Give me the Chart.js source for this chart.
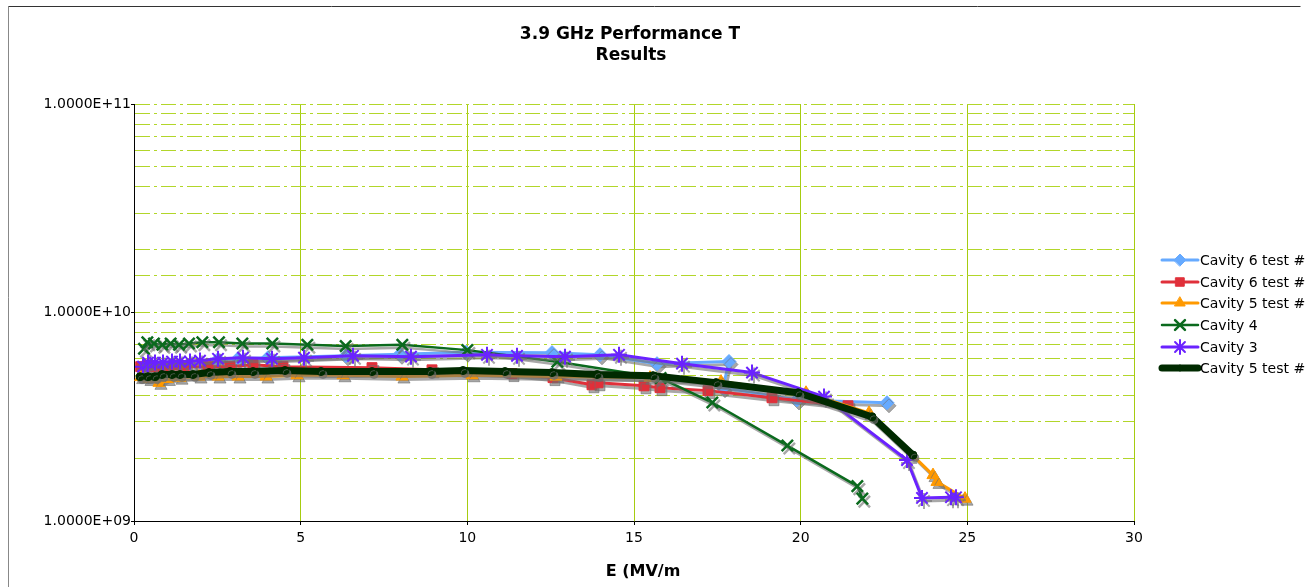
<!DOCTYPE html>
<html>
<head>
<meta charset="utf-8">
<script src="https://cdn.jsdelivr.net/npm/chart.js@4/dist/chart.umd.min.js"></script>
<style>
  html, body { margin: 0; padding: 0; background: #fff; }
  #chart { display: block; }
</style>
</head>
<body>
<canvas id="chart" width="1308" height="587"></canvas>
<script>
// Q0 vs E for each cavity test (y values in units of 1e9)
const seriesNames = ['Cavity 6 test #', 'Cavity 6 test #', 'Cavity 5 test #', 'Cavity 4', 'Cavity 3', 'Cavity 5 test #'];

const cav6aE = [2.52, 3.12, 4.02, 6.36, 7.98, 9.96, 12.54, 13.98, 15.69, 17.85, 17.67, 19.89, 22.59];
const cav6aQ = [5.95, 6.0, 6.07, 6.2, 6.3, 6.45, 6.42, 6.27, 5.68, 5.82, 4.36, 3.81, 3.69];

const cav6bE = [0.2, 0.4, 0.6, 0.9, 1.2, 1.5, 2.22, 2.88, 3.57, 4.47, 7.14, 8.94, 11.34, 12.57, 13.74, 13.92, 15.3, 15.78, 17.22, 19.14, 21.42];
const cav6bQ = [5.5, 5.6, 5.5, 5.5, 5.6, 5.5, 5.5, 5.5, 5.62, 5.5, 5.44, 5.31, 5.09, 4.87, 4.5, 4.6, 4.45, 4.36, 4.22, 3.9, 3.57];

const cav5aE = [0.2, 0.45, 0.75, 1.0, 1.38, 1.95, 2.52, 3.12, 3.96, 4.89, 6.27, 8.04, 10.14, 12.66, 15.48, 17.61, 20.16, 22.05, 23.97, 24.09, 24.93];
const cav5aQ = [4.9, 4.8, 4.6, 4.8, 4.87, 4.93, 4.93, 4.93, 4.93, 5.0, 5.0, 4.93, 5.0, 4.93, 4.87, 4.66, 4.12, 3.3, 1.66, 1.54, 1.28];

const cav4E = [0.3, 0.4, 0.6, 0.85, 1.1, 1.35, 1.65, 2.05, 2.55, 3.25, 4.15, 5.2, 6.35, 8.05, 10.0, 12.7, 15.8, 17.35, 19.6, 21.7, 21.85];
const cav4Q = [6.7, 7.2, 7.1, 7.0, 7.1, 7.0, 7.1, 7.2, 7.2, 7.1, 7.1, 7.0, 6.9, 7.0, 6.6, 5.8, 4.85, 3.7, 2.3, 1.47, 1.28];

const cav3E = [0.27, 0.42, 0.63, 0.87, 1.14, 1.38, 1.68, 1.98, 2.52, 3.27, 4.14, 5.1, 6.57, 8.31, 10.59, 11.49, 12.93, 14.55, 16.44, 18.54, 20.7, 23.19, 23.64, 24.51, 24.66];
const cav3Q = [5.5, 5.75, 5.75, 5.75, 5.82, 5.82, 5.82, 5.88, 6.0, 6.07, 6.0, 6.07, 6.2, 6.14, 6.27, 6.2, 6.14, 6.27, 5.68, 5.15, 3.95, 1.96, 1.29, 1.3, 1.3];

const cav5bE = [0.18, 0.42, 0.63, 0.84, 1.14, 1.38, 1.77, 2.25, 2.88, 3.57, 4.53, 5.61, 7.14, 8.88, 9.87, 11.13, 12.54, 13.89, 15.57, 17.46, 19.92, 22.14, 23.37];
const cav5bQ = [4.92, 4.92, 4.92, 5.04, 5.04, 5.04, 5.04, 5.15, 5.21, 5.21, 5.27, 5.21, 5.21, 5.21, 5.27, 5.21, 5.15, 5.04, 4.98, 4.61, 4.12, 3.16, 2.07];

const xTicksStep = 5;
const yMin = 1e9, yMax = 1e11;

const FONT = 'DejaVu Sans, Verdana, sans-serif';

const pts = (xs, ys) => xs.map((x, i) => ({ x, y: ys[i] * 1e9 }));

const styles = [
  { color: '#66aaff', width: 3,   point: 'rectRot',  r: 7, bw: 1 },
  { color: '#e0303a', width: 3,   point: 'rect',     r: 7, bw: 1 },
  { color: '#ff9900', width: 3,   point: 'triangle', r: 7, bw: 1 },
  { color: '#0b6a1e', width: 2.5, point: 'crossRot', r: 8, bw: 2.5 },
  { color: '#6a22ff', width: 3,   point: 'star',     r: 8, bw: 2 },
  { color: '#002a00', width: 7,   point: 'circle',   r: 4, bw: 1 }
];
const rawData = [
  pts(cav6aE, cav6aQ), pts(cav6bE, cav6bQ), pts(cav5aE, cav5aQ),
  pts(cav4E, cav4Q), pts(cav3E, cav3Q), pts(cav5bE, cav5bQ)
];

const datasets = rawData.map((d, i) => {
  const s = styles[i];
  return {
    label: seriesNames[i],
    data: d,
    borderColor: s.color,
    backgroundColor: s.color,
    borderWidth: s.width,
    borderCapStyle: 'round',
    borderJoinStyle: 'round',
    pointStyle: s.point,
    pointRadius: s.r,
    pointBorderWidth: s.bw,
    pointBackgroundColor: s.color,
    pointBorderColor: s.color,
    tension: 0,
    order: styles.length - i   // later series drawn on top
  };
});

const isDecade = v => Math.abs(Math.log10(v) - Math.round(Math.log10(v))) < 1e-9;
function fmtSci(v){
  const e = Math.round(Math.log10(v));
  return '1.0000E+' + String(e).padStart(2, '0');
}

// drop shadow under lines and markers
const shadow = {
  id: 'shadow',
  beforeDatasetsDraw(chart){
    const c = chart.ctx;
    c.save();
    c.shadowColor = 'rgba(110,110,110,0.6)';
    c.shadowOffsetX = 2;
    c.shadowOffsetY = 3;
    c.shadowBlur = 0;
  },
  afterDatasetsDraw(chart){ chart.ctx.restore(); }
};

// frame, titles and legend
const decor = {
  id: 'decor',
  beforeDraw(chart){
    const c = chart.ctx;
    c.save();
    c.fillStyle = '#fff';
    c.fillRect(0, 0, chart.width, chart.height);
    c.restore();
  },
  afterDraw(chart){
    const c = chart.ctx;
    c.save();
    c.lineWidth = 1;
    c.strokeStyle = '#888';
    c.beginPath(); c.moveTo(8.5, 600); c.lineTo(8.5, 6.5); c.stroke();
    c.strokeStyle = '#333';
    c.beginPath(); c.moveTo(8.5, 6.5); c.lineTo(1300.5, 6.5); c.stroke();

    c.fillStyle = '#000';
    c.textAlign = 'center';
    c.textBaseline = 'middle';
    c.font = 'bold 17px ' + FONT;
    c.fillText('3.9 GHz Performance T', 630, 35);
    c.fillText('Results', 631, 56);
    c.font = 'bold 16px ' + FONT;
    c.fillText('E (MV/m', 643, 572);

    // legend
    const lx0 = 1162, lx1 = 1198, rowY = [260, 282, 303, 325, 347, 368];
    c.textAlign = 'left';
    c.font = '14px ' + FONT;
    styles.forEach((s, i) => {
      const y = rowY[i];
      c.strokeStyle = s.color;
      c.lineWidth = s.width;
      c.lineCap = 'round';
      c.beginPath(); c.moveTo(lx0, y); c.lineTo(lx1, y); c.stroke();
      c.fillStyle = s.color;
      c.lineWidth = s.bw;
      Chart.helpers.drawPoint(c, { pointStyle: s.point, radius: s.r - 1, rotation: 0, borderWidth: s.bw }, (lx0 + lx1) / 2, y);
      c.fillStyle = '#000';
      c.fillText(seriesNames[i], 1200, y + 1);
    });
    c.restore();
  }
};

new Chart(document.getElementById('chart'), {
  type: 'line',
  data: { datasets },
  options: {
    responsive: false,
    animation: false,
    layout: { padding: { top: 104, right: 174, left: 0, bottom: 0 } },
    plugins: { legend: { display: false }, tooltip: { enabled: false } },
    scales: {
      x: {
        type: 'linear',
        min: 0, max: 30,
        ticks: { stepSize: xTicksStep, color: '#000', font: { family: FONT, size: 14 }, padding: 5 },
        grid: {
          color: ctx => ctx.tick && ctx.tick.value === 0 ? 'rgba(0,0,0,0)' : '#a6cc10',
          lineWidth: 1, tickLength: 4, tickColor: '#000'
        },
        border: { color: '#000', width: 1 },
        afterFit: s => { s.height = 66; }
      },
      y: {
        type: 'logarithmic',
        min: yMin, max: yMax,
        ticks: {
          autoSkip: false,
          color: '#000',
          font: { family: FONT, size: 14 },
          padding: 0,
          callback: v => isDecade(v) ? fmtSci(v) : ''
        },
        grid: {
          color: '#b2d62a',
          lineWidth: 1,
          tickLength: 3,
          tickColor: ctx => ctx.tick && isDecade(ctx.tick.value) ? '#000' : 'rgba(0,0,0,0)'
        },
        border: { color: '#000', width: 1, dash: [15, 4, 3, 4] },
        afterFit: s => { s.width = 134; }
      }
    }
  },
  plugins: [shadow, decor]
});
</script>
</body>
</html>
